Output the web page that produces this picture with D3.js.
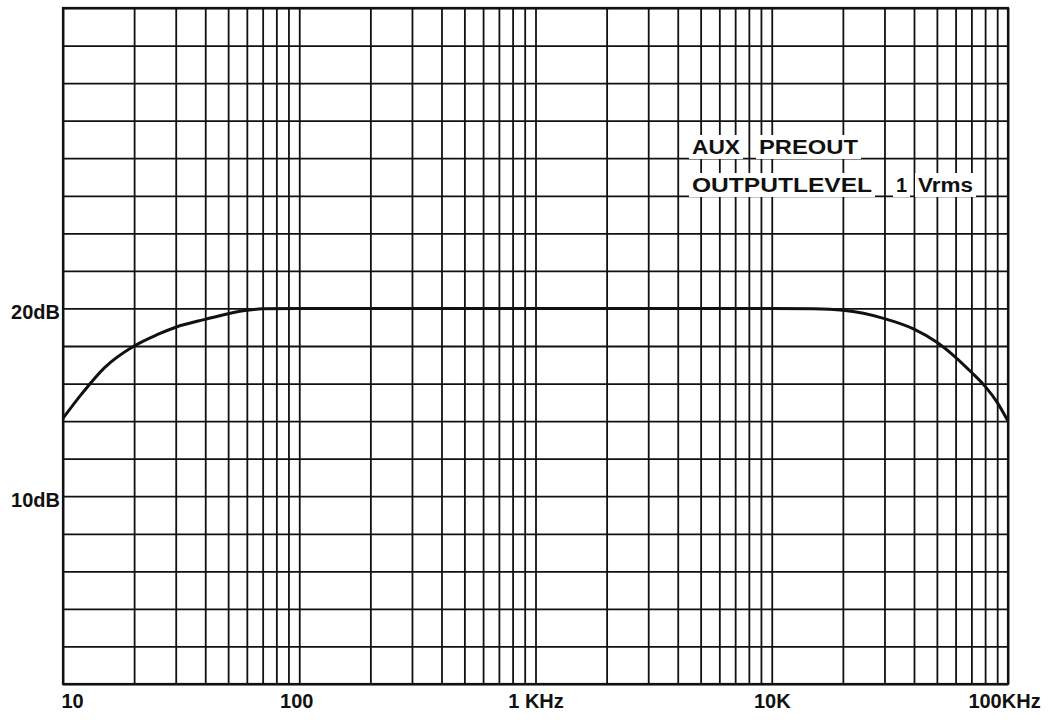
<!DOCTYPE html>
<html>
<head>
<meta charset="utf-8">
<script src="https://cdn.jsdelivr.net/npm/d3@7"></script>
<style>
  body { margin: 0; background: #fff; }
  text { font-family: "Liberation Sans", Arial, sans-serif; font-weight: bold; fill: #111; }
</style>
</head>
<body>
<script>
// 频率响应数据 (Hz / dB)
const freqs = [10, 12, 15, 20, 25, 30, 40, 50, 60, 70, 100, 1000, 10000, 15000, 20000, 30000, 40000, 50000, 60000, 70000, 80000, 90000, 100000];
const levels = [14.15, 15.45, 16.85, 18.0, 18.6, 19.0, 19.42, 19.72, 19.9, 19.98, 20, 20, 20, 19.98, 19.9, 19.46, 18.9, 18.2, 17.4, 16.6, 15.85, 15.0, 14.0];

// 刻度文字
const xTickVals = [10, 100, 1000, 10000, 100000];
const xTickLabels = ["10", "100", "1 KHz", "10K", "100KHz"];
const yTickVals = [10, 20];
const yTickLabels = ["10dB", "20dB"];
const noteLines = [["AUX", "PREOUT"], ["OUTPUTLEVEL", "1", "Vrms"]];

// 画布大小
let width = 1051;
let height = 720;
let padding = { left: 63, right: 43, top: 8, bottom: 36 };
let innerW = width - padding.left - padding.right;
let innerH = height - padding.top - padding.bottom;

let svg = d3.select("body").append("svg")
    .attr("width", width).attr("height", height);
let g = svg.append("g").attr("transform", `translate(${padding.left},${padding.top})`);

let xScale = d3.scaleLog().domain([10, 100000]).range([0, innerW]);
let yScale = d3.scaleLinear().domain([0, 36]).range([innerH, 0]);

// 网格线 1-9 每个十倍频
let minorVals = [];
[10, 100, 1000, 10000].forEach(d => {
    for (let k = 1; k < 10; k++) minorVals.push(d * k);
});
minorVals.push(100000);

let gridX = g.append("g").attr("class", "grid-x")
    .attr("transform", `translate(0,${innerH})`)
    .call(d3.axisBottom(xScale).tickValues(minorVals).tickSize(-innerH).tickFormat(""));
let gridY = g.append("g").attr("class", "grid-y")
    .call(d3.axisLeft(yScale).tickValues(d3.range(0, 37, 2)).tickSize(-innerW).tickFormat(""));
[gridX, gridY].forEach(a => {
    a.select(".domain").remove();
    a.selectAll("line").attr("stroke", "#111").attr("stroke-width", 1.8);
});

// 边框
g.append("rect")
    .attr("width", innerW).attr("height", innerH)
    .attr("fill", "none").attr("stroke", "#111").attr("stroke-width", 2.2);

// 说明文字 (白底), null = 自然宽度
let noteX = [[692, 759], [692, 896, 918]];
let noteW = [[48, 99], [180, null, 55]];
let noteBase = [154, 192];
noteLines.forEach((line, li) => {
    line.forEach((word, wi) => {
        let w = noteW[li][wi];
        svg.append("rect")
            .attr("x", noteX[li][wi] - 3).attr("y", noteBase[li] - 19)
            .attr("width", (w || 11) + 6).attr("height", 24)
            .attr("fill", "#fff");
        let t = svg.append("text")
            .attr("x", noteX[li][wi]).attr("y", noteBase[li])
            .style("font-size", "20px")
            .text(word);
        if (w) t.attr("textLength", w).attr("lengthAdjust", "spacingAndGlyphs");
    });
});

// 曲线
let line = d3.line()
    .x((d, i) => xScale(freqs[i]))
    .y(d => yScale(d))
    .curve(d3.curveMonotoneX);
g.append("path")
    .datum(levels)
    .attr("d", line)
    .attr("fill", "none")
    .attr("stroke", "#111")
    .attr("stroke-width", 3)
    .attr("stroke-linejoin", "round");

// x轴文字
let xAxis = g.append("g").attr("class", "x-axis")
    .attr("transform", `translate(0,${innerH})`)
    .call(d3.axisBottom(xScale).tickValues(xTickVals).tickSize(0)
        .tickFormat((d, i) => xTickLabels[i]));
xAxis.select(".domain").remove();
xAxis.selectAll("text")
    .attr("y", 24)
    .attr("dy", 0)
    .style("font-size", "20px")
    .attr("fill", "#111")
    .attr("text-anchor", (d, i) => i === 0 ? "start" : "middle")
    .attr("dx", (d, i) => i === 0 ? -2 : (i === 1 ? -3 : (i === 4 ? -4 : 0)));

// y轴文字
let yAxis = g.append("g").attr("class", "y-axis")
    .call(d3.axisLeft(yScale).tickValues(yTickVals).tickSize(0)
        .tickFormat((d, i) => yTickLabels[i]));
yAxis.select(".domain").remove();
yAxis.selectAll("text")
    .attr("x", -3)
    .attr("dy", "0.5em")
    .style("font-size", "20px")
    .attr("fill", "#111");
</script>
</body>
</html>
